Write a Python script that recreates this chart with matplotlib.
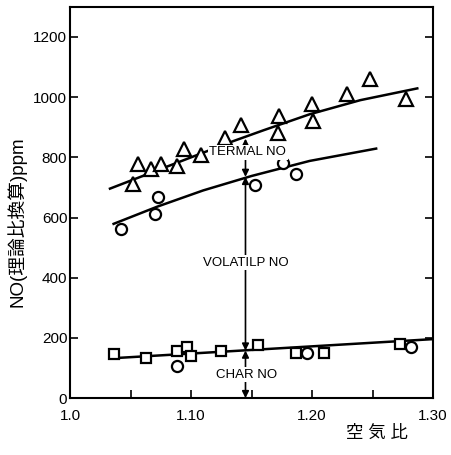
import numpy as np
import matplotlib
matplotlib.use('Agg')
from matplotlib import pyplot as plt

plt.rcParams['font.family'] = ['Liberation Sans', 'Noto Sans CJK JP']

# TERMAL (triangles)
tri_x = [1.052, 1.056, 1.067, 1.075, 1.088, 1.094, 1.108, 1.128, 1.141,
         1.173, 1.172, 1.200, 1.201, 1.229, 1.248, 1.278]
tri_y = [710, 779, 762, 779, 771, 827, 807, 863, 908,
         936, 882, 977, 921, 1010, 1060, 993]
# VOLATILE (circles, upper)
cir_x = [1.042, 1.070, 1.073, 1.153, 1.176, 1.187]
cir_y = [562, 613, 668, 708, 782, 746]
# CHAR (squares + circles, lower)
sq_x = [1.036, 1.063, 1.088, 1.097, 1.100, 1.125, 1.155, 1.187, 1.210, 1.273]
sq_y = [147, 132, 158, 169, 140, 157, 176, 151, 151, 180]
cir2_x = [1.088, 1.196, 1.282]
cir2_y = [107, 149, 171]

# fitted curves
th_cx = [1.033, 1.080, 1.135, 1.160, 1.198, 1.240, 1.287]
th_cy = [696, 769, 854, 890, 943, 990, 1029]
vo_cx = [1.036, 1.072, 1.110, 1.150, 1.198, 1.253]
vo_cy = [579, 636, 690, 738, 788, 829]
ch_cx = [1.033, 1.30]
ch_cy = [132, 196]

arrow_x = 1.145
lev_th, lev_vo, lev_ch = 862, 735, 158

fig = plt.figure(figsize=(4.52, 4.55), dpi=100)
ax = fig.add_axes([0.155, 0.125, 0.803, 0.86])

ax.plot(th_cx, th_cy, 'k-', lw=1.8)
ax.plot(vo_cx, vo_cy, 'k-', lw=1.8)
ax.plot(ch_cx, ch_cy, 'k-', lw=1.8)

ax.plot(tri_x, tri_y, '^', ms=10, mfc='white', mec='k', mew=1.6, ls='none')
ax.plot(cir_x, cir_y, 'o', ms=8, mfc='white', mec='k', mew=1.6, ls='none')
ax.plot(sq_x, sq_y, 's', ms=7, mfc='white', mec='k', mew=1.6, ls='none')
ax.plot(cir2_x, cir2_y, 'o', ms=8, mfc='white', mec='k', mew=1.6, ls='none')

aprops = dict(arrowstyle='<|-|>', color='k', lw=1.2, mutation_scale=10,
              shrinkA=0, shrinkB=0)
ax.annotate('', xy=(arrow_x, lev_th), xytext=(arrow_x, lev_vo), arrowprops=aprops)
ax.annotate('', xy=(arrow_x, lev_vo), xytext=(arrow_x, lev_ch), arrowprops=aprops)
ax.annotate('', xy=(arrow_x, lev_ch), xytext=(arrow_x, 0), arrowprops=aprops)

box = dict(facecolor='white', edgecolor='none', pad=1)
ax.text(1.147, 817, 'TERMAL NO', ha='center', va='center', fontsize=9.5, bbox=box)
ax.text(1.145, 450, 'VOLATILP NO', ha='center', va='center', fontsize=9.5, bbox=box)
ax.text(1.146, 77, 'CHAR NO', ha='center', va='center', fontsize=9.5, bbox=box)

ax.set_xlim(1.0, 1.30)
ax.set_ylim(0, 1300)
ax.set_xticks([1.0, 1.10, 1.20, 1.30])
ax.set_xticklabels(['1.0', '1.10', '1.20', '1.30'])
ax.set_xticks([1.05, 1.15, 1.25], minor=True)
ax.set_yticks([0, 200, 400, 600, 800, 1000, 1200])
ax.tick_params(axis='both', which='both', direction='in', length=6, width=1.2,
               labelsize=11, right=True, top=False)
ax.tick_params(axis='x', which='both', pad=8)
ax.tick_params(axis='y', pad=2)
for s in ax.spines.values():
    s.set_linewidth(1.5)

ax.set_ylabel('NO(理論比換算)ppm', fontsize=13.5)
ax.yaxis.set_label_coords(-0.12, 0.45)
fig.text(0.835, 0.03, '空 気 比', ha='center', va='bottom', fontsize=12.5)

fig.savefig('out.png', dpi=100)
